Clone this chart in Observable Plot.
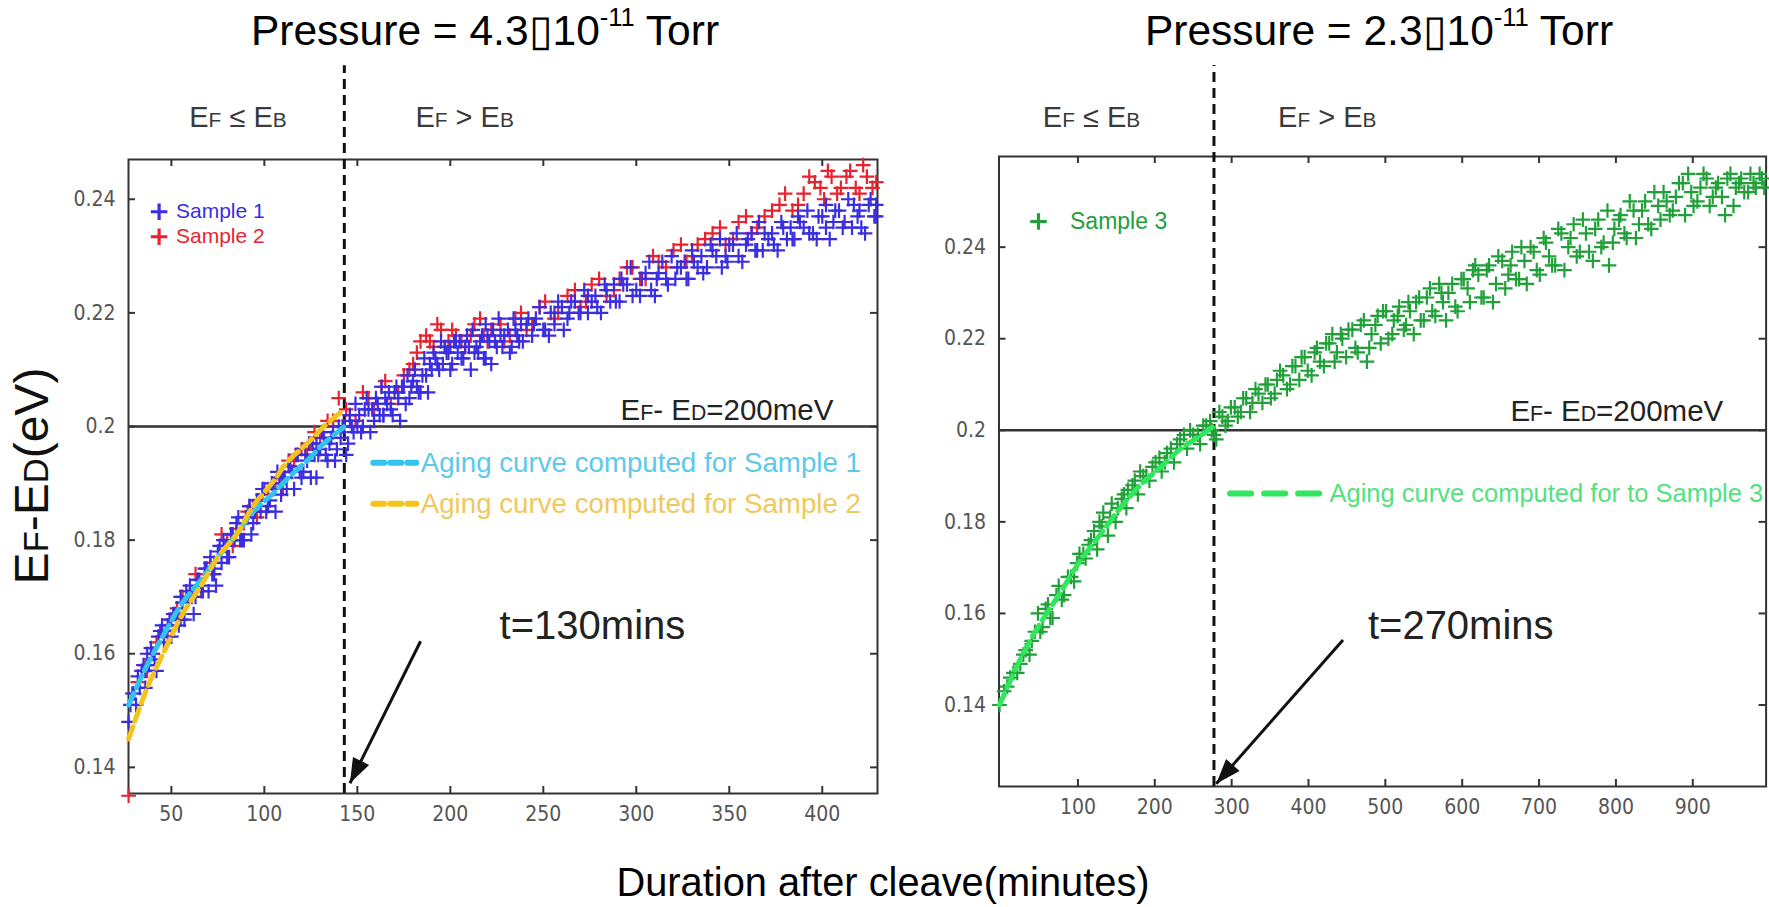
<!DOCTYPE html>
<html><head><meta charset="utf-8">
<script src="https://cdn.jsdelivr.net/npm/d3@7"></script>
<script src="https://cdn.jsdelivr.net/npm/@observablehq/plot@0.6"></script>
<style>
html,body{margin:0;padding:0;background:#fff}
#root{position:relative;width:1769px;height:907px;overflow:hidden;background:#fff;font-family:"Liberation Sans",Arial,sans-serif}
.abs{position:absolute;white-space:nowrap;line-height:1}
.sc{font-size:0.72em}
#root svg{position:absolute;top:0;overflow:visible}
</style></head><body><div id="root"></div>
<script>
// ---------------- data (minutes after cleave, EF-ED in eV) ----------------
const sample1Minutes = [
27,28,30,32,33,35,36,37,39,41,43,45,47,49,52,54,56,58,61,64,
66,69,71,73,75,78,80,83,85,88,90,92,94,97,99,102,104,107,109,111,
113,116,118,121,123,126,128,130,132,134,137,139,142,144,146,148,151,153,156,159,
161,164,165,168,170,173,175,178,180,184,187,189,192,194,197,199,201,203,206,208,
211,213,216,218,220,222,225,227,232,235,237,241,244,246,251,254,256,260,263,265,
270,274,279,284,289,293,298,303,308,312,317,322,327,331,336,341,346,350,355,360,
365,369,374,379,384,388,393,398,402,407,412,417,421,426,429];
const sample1Energy = [
0.148,0.151,0.153,0.156,0.154,0.158,0.157,0.160,0.161,0.159,0.163,0.165,0.164,0.166,0.167,0.165,0.169,0.171,0.170,0.173,
0.172,0.175,0.177,0.174,0.178,0.180,0.177,0.181,0.183,0.180,0.184,0.186,0.183,0.187,0.189,0.186,0.190,0.192,0.188,0.191,
0.193,0.189,0.195,0.192,0.194,0.197,0.191,0.196,0.198,0.194,0.199,0.196,0.200,0.195,0.201,0.199,0.202,0.200,0.203,0.201,
0.204,0.202,0.205,0.203,0.206,0.201,0.207,0.205,0.208,0.206,0.209,0.211,0.212,0.210,0.214,0.213,0.211,0.215,0.212,0.214,
0.210,0.213,0.215,0.212,0.216,0.211,0.214,0.216,0.213,0.217,0.215,0.218,0.216,0.219,0.217,0.220,0.218,0.221,0.219,0.222,
0.220,0.223,0.221,0.224,0.222,0.225,0.223,0.226,0.224,0.227,0.225,0.228,0.226,0.229,0.227,0.231,0.228,0.232,0.230,0.233,
0.231,0.234,0.232,0.235,0.233,0.236,0.234,0.237,0.235,0.238,0.236,0.239,0.235,0.240,0.237];
const sample1MinutesMore = [
29,31,34,36,38,40,42,44,46,48,50,51,53,55,55,57,59,60,62,63,
65,67,68,70,72,73,74,76,77,79,81,82,84,86,87,89,91,92,93,95,
96,98,100,101,103,105,106,108,109,110,112,114,115,117,119,120,122,124,125,127,
128,129,131,133,135,136,138,140,141,143,145,146,147,149,150,152,154,155,157,158,
160,162,163,164,166,167,169,171,172,174,176,177,179,181,182,183,185,186,188,190,
191,193,195,196,198,200,200,202,204,205,207,209,210,212,214,215,217,219,219,221,
223,224,226,228,229,231,233,234,236,238,239,242,245,248,250,253,256,258,261,264,
267,269,272,274,276,278,281,283,286,288,291,292,295,297,300,302,305,307,310,311,
314,316,319,321,324,326,328,330,333,335,338,340,343,345,348,349,352,354,357,359,
362,364,366,368,371,373,376,378,381,383,385,387,390,392,395,397,400,402,404,406,
409,411,414,416,419,420,423,425,428,429];
const sample1EnergyMore = [
0.153,0.151,0.157,0.154,0.158,0.160,0.157,0.164,0.162,0.165,0.163,0.167,0.166,0.170,0.166,0.166,0.170,0.172,0.167,0.170,
0.173,0.171,0.175,0.171,0.174,0.175,0.172,0.179,0.176,0.179,0.177,0.181,0.180,0.184,0.180,0.180,0.184,0.186,0.181,0.185,
0.187,0.185,0.189,0.185,0.187,0.189,0.185,0.191,0.189,0.191,0.189,0.193,0.192,0.195,0.192,0.191,0.195,0.197,0.191,0.195,
0.197,0.195,0.199,0.195,0.197,0.198,0.194,0.200,0.198,0.200,0.197,0.202,0.200,0.204,0.200,0.199,0.203,0.205,0.199,0.203,
0.205,0.202,0.207,0.202,0.204,0.206,0.202,0.207,0.205,0.207,0.204,0.209,0.207,0.210,0.207,0.206,0.209,0.212,0.206,0.210,
0.213,0.211,0.215,0.211,0.213,0.214,0.210,0.215,0.213,0.215,0.212,0.216,0.214,0.217,0.214,0.213,0.216,0.218,0.212,0.215,
0.217,0.215,0.219,0.214,0.216,0.217,0.214,0.219,0.216,0.218,0.215,0.219,0.218,0.221,0.217,0.216,0.220,0.222,0.217,0.220,
0.222,0.220,0.224,0.220,0.222,0.223,0.220,0.225,0.222,0.225,0.222,0.226,0.225,0.228,0.224,0.223,0.227,0.229,0.223,0.226,
0.229,0.226,0.230,0.226,0.228,0.229,0.226,0.231,0.228,0.230,0.228,0.232,0.230,0.233,0.230,0.229,0.232,0.234,0.229,0.232,
0.234,0.231,0.236,0.231,0.233,0.234,0.231,0.236,0.233,0.235,0.233,0.237,0.235,0.238,0.234,0.233,0.237,0.239,0.233,0.236,
0.238,0.235,0.240,0.235,0.237,0.238,0.234,0.239,0.237,0.239];

const sample2Minutes = [
27,37,42,50,56,63,71,77,85,91,99,106,113,120,127,134,140,144,149,156,
163,168,175,180,184,187,191,195,199,203,208,213,218,222,229,235,241,248,256,263,
270,276,284,291,298,305,312,320,327,333,341,348,355,362,369,377,384,390,396,401,
405,410,415,420,424,429,
32,36,40,45,48,53,54,60,66,68,73,80,83,89,94,96,102,109,110,116,
123,125,130,137,146,153,159,165,172,178,182,189,193,197,201,206,211,216,220,227,
232,238,244,251,258,267,273,280,288,295,302,309,316,324,330,337,345,352,359,365,
373,380,387,393,399,403,408,413,418,422,427];
const sample2Energy = [
0.135,0.157,0.162,0.166,0.170,0.174,0.176,0.181,0.182,0.185,0.188,0.190,0.194,0.196,0.199,0.201,0.205,0.203,0.201,0.205,
0.207,0.204,0.209,0.211,0.215,0.216,0.214,0.217,0.215,0.216,0.214,0.218,0.216,0.217,0.215,0.219,0.217,0.221,0.219,0.223,
0.221,0.225,0.223,0.226,0.228,0.226,0.229,0.231,0.229,0.232,0.234,0.232,0.236,0.234,0.237,0.239,0.238,0.241,0.243,0.240,
0.244,0.242,0.245,0.241,0.244,0.243,
0.155,0.158,0.160,0.164,0.163,0.168,0.167,0.171,0.171,0.174,0.176,0.180,0.179,0.183,0.186,0.184,0.189,0.191,0.189,0.194,
0.195,0.197,0.198,0.201,0.202,0.206,0.203,0.208,0.206,0.210,0.213,0.215,0.218,0.214,0.217,0.215,0.216,0.219,0.215,0.218,
0.216,0.220,0.218,0.222,0.220,0.224,0.222,0.226,0.224,0.228,0.226,0.230,0.228,0.232,0.230,0.233,0.235,0.233,0.237,0.235,
0.238,0.241,0.239,0.244,0.242,0.245,0.241,0.244,0.242,0.246,0.242];

const sample3Minutes = [
-2,8,16,25,32,40,48,54,61,67,75,82,91,99,107,114,121,128,133,139,
144,152,160,165,174,181,189,197,206,213,221,229,238,246,256,263,272,274,280,288,
295,304,312,319,327,335,344,351,359,367,376,383,391,399,408,415,423,431,437,444,
452,461,468,476,482,490,497,504,511,518,527,532,540,546,554,561,570,575,582,591,
599,607,614,621,628,635,644,652,660,665,674,681,689,697,706,713,721,729,738,745,
753,761,770,777,784,791,798,806,814,823,830,838,846,855,862,870,878,887,894,901,
910,918,926,933,942,949,956,963,972,979,987,993,
4,12,21,29,37,44,51,58,64,72,79,87,95,102,110,117,125,131,142,149,
157,163,171,178,185,193,201,209,216,225,233,242,250,259,267,277,284,292,299,308,
315,324,331,340,347,356,363,372,379,388,395,404,411,420,427,434,442,449,457,464,
472,479,487,494,501,509,516,524,530,537,544,550,558,565,573,579,587,594,602,610,
617,625,632,640,647,656,663,670,677,684,693,701,709,717,725,733,741,749,757,765,
773,781,789,796,804,811,818,826,834,842,850,858,866,874,882,890,898,906,914,922,
930,938,945,953,960,967,975,982,990];
const sample3Energy = [
0.140,0.144,0.147,0.149,0.152,0.154,0.160,0.157,0.162,0.159,0.166,0.164,0.168,0.171,0.173,0.175,0.178,0.180,0.182,0.177,
0.184,0.183,0.186,0.187,0.189,0.191,0.190,0.192,0.194,0.193,0.196,0.197,0.199,0.200,0.199,0.201,0.202,0.200,0.198,0.203,
0.202,0.205,0.204,0.207,0.206,0.208,0.210,0.207,0.211,0.212,0.210,0.214,0.216,0.213,0.217,0.215,0.219,0.221,0.217,0.220,
0.222,0.218,0.223,0.215,0.221,0.225,0.226,0.220,0.224,0.227,0.223,0.226,0.228,0.224,0.229,0.226,0.232,0.228,0.230,0.227,
0.233,0.231,0.235,0.234,0.229,0.236,0.232,0.237,0.234,0.239,0.233,0.237,0.240,0.235,0.242,0.238,0.236,0.243,0.240,0.245,
0.239,0.243,0.237,0.246,0.241,0.236,0.244,0.247,0.242,0.248,0.245,0.250,0.244,0.249,0.252,0.247,0.251,0.254,0.256,0.249,
0.253,0.255,0.251,0.254,0.247,0.256,0.253,0.255,0.252,0.254,0.256,0.253,
0.143,0.146,0.147,0.151,0.151,0.156,0.156,0.161,0.159,0.164,0.163,0.168,0.167,0.173,0.172,0.176,0.174,0.179,0.181,0.180,
0.185,0.183,0.188,0.186,0.190,0.189,0.193,0.191,0.195,0.193,0.198,0.196,0.199,0.197,0.201,0.199,0.204,0.201,0.205,0.203,
0.207,0.204,0.209,0.206,0.210,0.208,0.213,0.209,0.214,0.211,0.216,0.212,0.218,0.214,0.219,0.215,0.221,0.216,0.222,0.217,
0.224,0.218,0.223,0.219,0.226,0.221,0.225,0.222,0.228,0.221,0.229,0.224,0.231,0.225,0.230,0.224,0.232,0.226,0.233,0.228,
0.236,0.229,0.235,0.228,0.238,0.231,0.236,0.233,0.240,0.232,0.239,0.234,0.241,0.236,0.244,0.235,0.242,0.238,0.246,0.239,
0.244,0.240,0.248,0.241,0.246,0.243,0.250,0.242,0.248,0.245,0.252,0.246,0.250,0.248,0.254,0.247,0.252,0.250,0.256,0.249,
0.253,0.251,0.255,0.249,0.254,0.252,0.256,0.253,0.255];

const aging12Minutes = [27,37,47,56,66,75,85,94,104,113,123,132,143];
const aging1Energy = [0.151,0.158,0.164,0.169,0.173,0.177,0.181,0.185,0.188,0.191,0.194,0.197,0.200];
const aging2Energy = [0.145,0.154,0.161,0.167,0.172,0.177,0.181,0.186,0.190,0.194,0.197,0.200,0.203];
const aging3Minutes = [-2,22,48,75,101,128,155,181,208,234,261,277];
const aging3Energy = [0.140,0.149,0.157,0.164,0.171,0.177,0.183,0.188,0.192,0.196,0.199,0.201];

const leftXTicks = [50,100,150,200,250,300,350,400];
const rightXTicks = [100,200,300,400,500,600,700,800,900];
const yTicks = [0.14,0.16,0.18,0.2,0.22,0.24];
const thresholdEnergy = 0.2;
const crossingMinutes = [130, 270];
const crossingLineMinutes = [143, 277];
const titles = ["4.3", "2.3"];
const legendLabels = ["Sample 1", "Sample 2", "Sample 3"];
const agingLabels = ["Aging curve computed for Sample 1", "Aging curve computed for Sample 2", "Aging curve computed for to Sample 3"];

// ---------------- styling ----------------
const C = {
  blue: "#3a2ee0", red: "#e8232f", green: "#21a03a",
  cyan: "#33c4ee", cyanText: "#5cc9ea",
  yellow: "#f2c41c", yellowText: "#f0c85c",
  lime: "#2fe65c", limeText: "#52e27e",
  axis: "#333", tick: "#555"
};
const tickFont = "'Liberation Sans Narrow','DejaVu Sans Condensed','Liberation Sans',sans-serif";
const mainFont = "'Liberation Sans',Arial,sans-serif";

const zip = (t, e) => t.map((d, i) => ({t: d, e: e[i]}));
const s1 = zip(sample1Minutes, sample1Energy).concat(zip(sample1MinutesMore, sample1EnergyMore));
const s2 = zip(sample2Minutes, sample2Energy);
const s3 = zip(sample3Minutes, sample3Energy);
const a1 = zip(aging12Minutes, aging1Energy);
const a2 = zip(aging12Minutes, aging2Energy);
const a3 = zip(aging3Minutes, aging3Energy);

const arrowHead = {draw(ctx) { const L = 25, w = 9; ctx.moveTo(0, 0); ctx.lineTo(-w, L); ctx.lineTo(w, L); ctx.closePath(); }};

function panel(cfg) {
  const fw = cfg.width - cfg.ml - cfg.mr, fh = cfg.height - cfg.mt - cfg.mb;
  const sx = d3.scaleLinear(cfg.x, [cfg.ml, cfg.width - cfg.mr]);
  const sy = d3.scaleLinear(cfg.y, [cfg.height - cfg.mb, cfg.mt]);
  const A = cfg.arrow;
  const angle = Math.atan2(sx(A.x2) - sx(A.x1), -(sy(A.y2) - sy(A.y1))) * 180 / Math.PI;
  const fmtY = d => String(+d.toFixed(2));
  const marks = [
    Plot.frame({stroke: C.axis, strokeWidth: 2}),
    Plot.tickX(cfg.xTicks, {x: d => d, insetTop: fh - 7, stroke: C.axis, strokeWidth: 2}),
    Plot.tickX(cfg.xTicks, {x: d => d, insetBottom: fh - 7, stroke: C.axis, strokeWidth: 2}),
    Plot.tickY(yTicks, {y: d => d, insetRight: fw - 7, stroke: C.axis, strokeWidth: 2}),
    Plot.tickY(yTicks, {y: d => d, insetLeft: fw - 7, stroke: C.axis, strokeWidth: 2}),
    Plot.axisX(cfg.xTicks, {anchor: "bottom", tickSize: 0, tickPadding: 13, fontSize: 21, fill: C.tick, fontFamily: tickFont, label: null, tickFormat: d => String(d)}),
    Plot.axisY(yTicks, {anchor: "left", tickSize: 0, tickPadding: 13, fontSize: 21, fill: C.tick, fontFamily: tickFont, label: null, tickFormat: fmtY}),
    Plot.ruleY([thresholdEnergy], {stroke: C.axis, strokeWidth: 2.5}),
    Plot.ruleX([cfg.crossing], {y1: cfg.y[0], y2: cfg.dashTop, stroke: "#111", strokeWidth: 3, strokeDasharray: "10,6"}),
    ...cfg.dots,
    ...cfg.lines,
    Plot.link([A], {x1: "x1", y1: "y1", x2: "x2", y2: "y2", stroke: "#111", strokeWidth: 3}),
    Plot.dot([A], {x: "x2", y: "y2", symbol: arrowHead, fill: "#111", stroke: "none", rotate: angle}),
    Plot.text(cfg.headers, {x: "t", y: "e", text: "label", textAnchor: "middle", lineAnchor: "bottom", fontSize: 29, fill: "#3a3a3a", fontFamily: mainFont}),
    Plot.text([cfg.refLabel], {x: "t", y: "e", text: "label", textAnchor: "end", lineAnchor: "bottom", fontSize: 29.5, fill: "#222", fontFamily: mainFont}),
    Plot.text([cfg.tLabel], {x: "t", y: "e", text: "label", textAnchor: "start", lineAnchor: "bottom", fontSize: 40, fill: "#222", fontFamily: mainFont}),
    ...cfg.legend
  ];
  return Plot.plot({
    width: cfg.width, height: cfg.height,
    marginLeft: cfg.ml, marginRight: cfg.mr, marginTop: cfg.mt, marginBottom: cfg.mb,
    x: {domain: cfg.x}, y: {domain: cfg.y},
    style: {background: "transparent", overflow: "visible", fontFamily: mainFont},
    marks
  });
}

const dotOpts = (color) => ({x: "t", y: "e", symbol: "plus", r: 4.8, stroke: color, strokeWidth: 2.2});
const legendDot = (t, e, color) => Plot.dot([{t, e}], {x: "t", y: "e", symbol: "plus", r: 5.4, stroke: color, strokeWidth: 3.2});
const legendText = (t, e, label, color, size) => Plot.text([{t, e, label}], {x: "t", y: "e", text: "label", textAnchor: "start", lineAnchor: "middle", fontSize: size, fill: color, fontFamily: mainFont});
const legendDash = (t1, t2, e, color, dash) => Plot.line([{t: t1, e}, {t: t2, e}], {x: "t", y: "e", stroke: color, strokeWidth: 6, strokeDasharray: dash});
const curveOpts = (color) => ({x: "t", y: "e", stroke: color, strokeWidth: 5, strokeDasharray: "13,6", curve: "catmull-rom"});

const left = panel({
  width: 940, height: 907, ml: 128, mr: 63, mt: 159, mb: 114,
  x: [26.95, 429.7], y: [0.1354, 0.2470], xTicks: leftXTicks,
  crossing: crossingLineMinutes[0], dashTop: 0.2635,
  dots: [Plot.dot(s2, dotOpts(C.red)), Plot.dot(s1, dotOpts(C.blue))],
  lines: [Plot.line(a1, curveOpts(C.cyan)), Plot.line(a2, curveOpts(C.yellow))],
  arrow: {x1: 184, y1: 0.1622, x2: 146, y2: 0.1372},
  headers: [{t: 85.8, e: 0.2528, label: "E{F} \u2264 E{B}"}, {t: 207.7, e: 0.2528, label: "E{F} > E{B}"}],
  refLabel: {t: 406, e: 0.2011, label: "E{F}- E{D}=200meV"},
  tLabel: {t: 226.5, e: 0.1626, label: `t=${crossingMinutes[0]}mins`},
  legend: [
    legendDot(43.4, 0.2378, C.blue), legendText(52.5, 0.2378, legendLabels[0], C.blue, 21),
    legendDot(43.4, 0.2334, C.red), legendText(52.5, 0.2334, legendLabels[1], C.red, 21),
    legendDash(158.6, 181.7, 0.1936, C.cyan, "11,6"), legendText(184.1, 0.1936, agingLabels[0], C.cyanText, 27.7),
    legendDash(158.6, 181.7, 0.1864, C.yellow, "11,6"), legendText(184.1, 0.1864, agingLabels[1], C.yellowText, 27.7)
  ]
});

const right = panel({
  width: 829, height: 907, ml: 58.5, mr: 3.4, mt: 156, mb: 121,
  x: [-2.7, 995.4], y: [0.1222, 0.2598], xTicks: rightXTicks,
  crossing: crossingLineMinutes[1], dashTop: 0.2797,
  dots: [Plot.dot(s3, dotOpts(C.green))],
  lines: [Plot.line(a3, curveOpts(C.lime))],
  arrow: {x1: 444.9, y1: 0.1542, x2: 280, y2: 0.1228},
  headers: [{t: 117.7, e: 0.2663, label: "E{F} \u2264 E{B}"}, {t: 424.4, e: 0.2663, label: "E{F} > E{B}"}],
  refLabel: {t: 939.6, e: 0.2020, label: "E{F}- E{D}=200meV"},
  tLabel: {t: 477.3, e: 0.1544, label: `t=${crossingMinutes[1]}mins`},
  legend: [
    legendDot(48.7, 0.2456, C.green), legendText(89.7, 0.2456, legendLabels[2], C.green, 23),
    legendDash(298, 416, 0.1862, C.lime, "21,13"), legendText(427.3, 0.1862, agingLabels[2], C.limeText, 25.5)
  ]
});

const root = document.getElementById("root");
left.style.left = "0px";
right.style.left = "940px";
root.appendChild(left);
root.appendChild(right);

// small-capital letters of E_F, E_D, E_B
function richify(svg) {
  svg.querySelectorAll("text").forEach(t => {
    const s = t.textContent;
    if (!s.includes("{")) return;
    t.textContent = "";
    s.split(/(\{[^}]*\})/).forEach(p => {
      if (!p) return;
      const ts = document.createElementNS("http://www.w3.org/2000/svg", "tspan");
      if (p[0] === "{") { ts.textContent = p.slice(1, -1); ts.setAttribute("font-size", "0.72em"); }
      else ts.textContent = p;
      t.appendChild(ts);
    });
  });
}
richify(left); richify(right);

function addText(html, x, baseline, size, anchor = "middle", extra = "") {
  const d = document.createElement("div");
  d.className = "abs";
  d.innerHTML = html;
  d.style.fontSize = size + "px";
  d.style.lineHeight = size + "px";
  d.style.top = (baseline - 0.8465 * size) + "px";
  d.style.left = x + "px";
  d.style.transform = anchor === "middle" ? "translateX(-50%)" : "";
  d.style.cssText += extra;
  root.appendChild(d);
  return d;
}
const box = "\u25AF";
addText(`Pressure = ${titles[0]}${box}10<sup style="font-size:0.6em;vertical-align:0.75em;line-height:0">-11</sup> Torr`, 485, 46, 42.5);
addText(`Pressure = ${titles[1]}${box}10<sup style="font-size:0.6em;vertical-align:0.75em;line-height:0">-11</sup> Torr`, 1379, 46, 42.5);
addText("Duration after cleave(minutes)", 883, 897, 39.8);
const yl = document.createElement("div");
yl.className = "abs";
yl.innerHTML = 'E<span class="sc">F</span>-E<span class="sc">D</span>(eV)';
yl.style.cssText += "font-size:48px;left:32px;top:476px;transform:translate(-50%,-50%) rotate(-90deg);color:#111";
root.appendChild(yl);
</script></body></html>
